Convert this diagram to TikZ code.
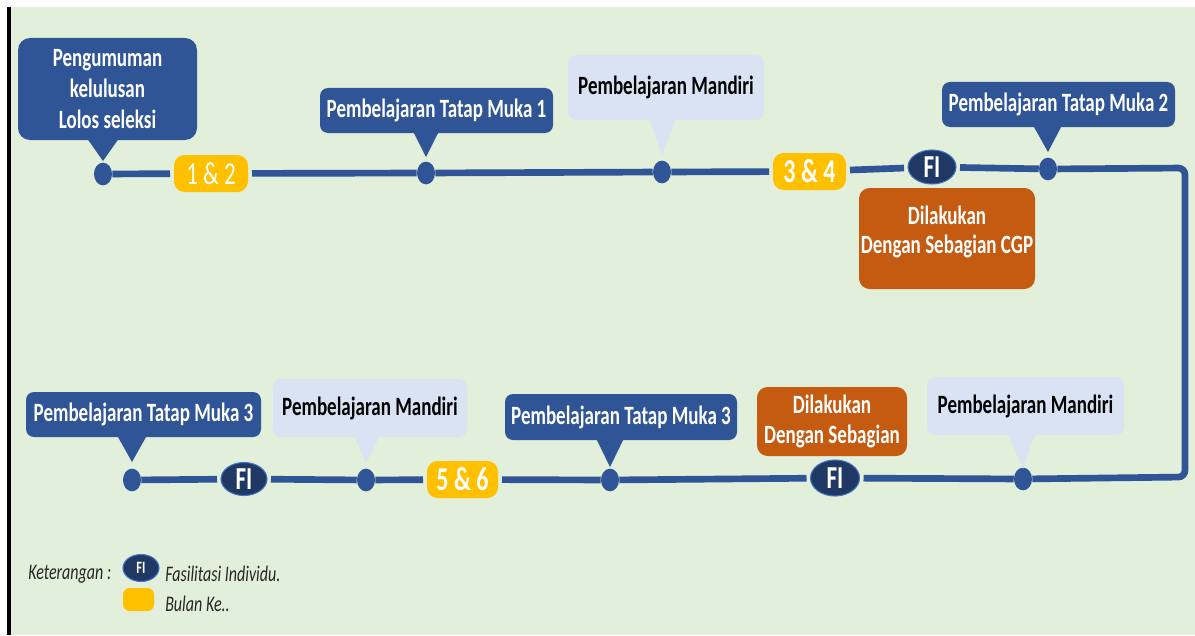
\documentclass[tikz,border=0pt]{standalone}
\usepackage{fontspec}
\setmainfont{Carlito}[FakeStretch=0.72]
\usepackage{tikz}
\usetikzlibrary{shapes.geometric,positioning,calc}

\definecolor{bggreen}{HTML}{E2EFDA}
\definecolor{lineblue}{HTML}{2F5597}
\definecolor{boxblue}{HTML}{2F5597}
\definecolor{boxlight}{HTML}{DAE3F3}
\definecolor{monthyellow}{HTML}{FFC000}
\definecolor{finavy}{HTML}{203864}
\definecolor{fiedge}{HTML}{4472C4}
\definecolor{cgporange}{HTML}{C55A11}

\tikzset{
  tline/.style={line width=5pt, draw=lineblue},
  stopdot/.style={ellipse, fill=lineblue, inner sep=0pt, minimum width=13.5pt, minimum height=17pt},
  tmbox/.style={rounded corners=6pt, fill=boxblue, text=white, inner sep=0pt, align=center,
    font=\bfseries\fontsize{19.8}{23}\selectfont},
  mdbox/.style={rounded corners=6pt, fill=boxlight, text=black, inner sep=0pt, align=center,
    font=\bfseries\fontsize{19.8}{23}\selectfont},
  cgpbox/.style={rounded corners=8pt, fill=cgporange, text=white, inner sep=0pt, align=center,
    font=\bfseries\fontsize{19.8}{22}\selectfont},
  monthbox/.style={rounded corners=8pt, fill=monthyellow, text=white, inner sep=0pt, outer sep=3pt,
    minimum height=27.75pt},
  fibubble/.style={ellipse, fill=finavy, draw=fiedge, line width=0.8pt, text=white, inner sep=0pt,
    outer sep=3pt, font=\bfseries\fontsize{24}{26}\selectfont},
  legtext/.style={anchor=base west, inner sep=0pt, text=black!85, font=\itshape\fontsize{16.7}{18}\selectfont}
}

\begin{document}
\begin{tikzpicture}[x=0.75pt,y=-0.75pt]
  \useasboundingbox (0,0) rectangle (1195,635);
  \fill[white] (0,0) rectangle (1195,635);
  \fill[bggreen] (7,7) rectangle (1195,635);
  \draw[black, line width=2.5pt] (9,7) -- (9,635);

  % top row
  \node[stopdot] (d1) at (103,174) {};
  \node[monthbox, minimum width=55.5pt, font=\fontsize{24}{26}\selectfont] (y12) at (211,173.5) {1 \& 2};
  \node[stopdot] (d2) at (426,173) {};
  \node[stopdot] (d3) at (662,172) {};
  \node[monthbox, minimum width=54.75pt, font=\bfseries\fontsize{25}{26}\selectfont] (y34) at (809.5,171.5) {3 \& 4};
  \node[fibubble, minimum width=36pt, minimum height=25.5pt] (fi1) at (932,167) {FI};
  \node[stopdot] (d4) at (1048,169) {};
  \coordinate (c1) at (1185,168);
  \coordinate (c2) at (1185,477);

  % bottom row
  \node[stopdot] (e4) at (1023,479) {};
  \node[fibubble, minimum width=36.75pt, minimum height=27pt] (fi3) at (835,478) {FI};
  \node[stopdot] (e3) at (610,480) {};
  \node[monthbox, minimum width=53.25pt, font=\bfseries\fontsize{25}{26}\selectfont] (y56) at (462.5,479.5) {5 \& 6};
  \node[stopdot] (e2) at (366,480) {};
  \node[fibubble, minimum width=34.5pt, minimum height=24.75pt] (fi2) at (244,479) {FI};
  \node[stopdot] (e1) at (132,480) {};

  \draw[tline, rounded corners=5pt] (d1) -- (y12) -- (d2) -- (d3) -- (y34) -- (fi1) -- (d4)
    -- (c1) -- (c2) -- (e4) -- (fi3) -- (e3) -- (y56) -- (e2) -- (fi2) -- (e1);

  % callouts
  \node[tmbox, rounded corners=9pt, minimum width=134.25pt, minimum height=76.5pt] (ann) at (107.5,89)
    {Pengumuman\\kelulusan\\Lolos seleksi};
  \node[tmbox, minimum width=174.75pt, minimum height=33.75pt] (tm1) at (436.5,110.5) {Pembelajaran Tatap Muka 1};
  \node[mdbox, minimum width=147pt, minimum height=48.75pt] (pm1) at (666,87.5) {Pembelajaran Mandiri};
  \node[tmbox, minimum width=174.75pt, minimum height=33.75pt] (tm2) at (1058.5,104.5) {Pembelajaran Tatap Muka 2};
  \node[cgpbox, minimum width=132pt, minimum height=75.75pt, text depth=13pt] (cgp) at (947,238.5)
    {Dilakukan\\Dengan Sebagian CGP};

  \node[tmbox, minimum width=176.25pt, minimum height=33.75pt] (tm3a) at (143.5,414.5) {Pembelajaran Tatap Muka 3};
  \node[mdbox, minimum width=145.5pt, minimum height=43.5pt] (pm2) at (370,408) {Pembelajaran Mandiri};
  \node[tmbox, minimum width=174pt, minimum height=34.5pt] (tm3b) at (621,417) {Pembelajaran Tatap Muka 3};
  \node[cgpbox, minimum width=112.5pt, minimum height=51.75pt] (sb) at (832,421.5)
    {Dilakukan\\Dengan Sebagian};
  \node[mdbox, minimum width=147.75pt, minimum height=43.5pt] (pm3) at (1025.5,406) {Pembelajaran Mandiri};

  % pointers
  \fill[boxblue] ($(ann.south -| d1)+(-16,-2)$) -- ($(d1)+(0,-13)$) -- ($(ann.south -| d1)+(16,-2)$) -- cycle;
  \fill[boxblue] ($(tm1.south -| d2)+(-13,-2)$) -- ($(d2)+(0,-16)$) -- ($(tm1.south -| d2)+(13,-2)$) -- cycle;
  \fill[boxlight] ($(pm1.south -| d3)+(-13,-2)$) -- ($(d3)+(0,-17)$) -- ($(pm1.south -| d3)+(14,-2)$) -- cycle;
  \fill[boxblue] ($(tm2.south -| d4)+(-15,-2)$) -- ($(d4)+(0,-17)$) -- ($(tm2.south -| d4)+(14,-2)$) -- cycle;
  \fill[boxblue] ($(tm3a.south -| e1)+(-15,-2)$) -- ($(e1)+(0,-18)$) -- ($(tm3a.south -| e1)+(15,-2)$) -- cycle;
  \fill[boxlight] ($(pm2.south -| e2)+(-12,-2)$) -- ($(e2)+(0,-17)$) -- ($(pm2.south -| e2)+(14,-2)$) -- cycle;
  \fill[boxblue] ($(tm3b.south -| e3)+(-14,-2)$) -- ($(e3)+(0,-13)$) -- ($(tm3b.south -| e3)+(14,-2)$) -- cycle;
  \fill[boxlight] ($(pm3.south -| e4)+(-15,-2)$) -- ($(e4)+(0,-10)$) -- ($(pm3.south -| e4)+(12,-2)$) -- cycle;

  % legend
  \node[legtext] (ket) at (28,579) {Keterangan :};
  \node[fibubble, outer sep=0pt, minimum width=27pt, minimum height=20.25pt,
    font=\bfseries\fontsize{13}{14}\selectfont] (kfi) at (141,568) {\raisebox{-5pt}{FI}};
  \node[legtext] (kfitxt) at (165,581) {Fasilitasi Individu.};
  \node[monthbox, outer sep=0pt, rounded corners=5pt, minimum width=23.25pt, minimum height=17.25pt] (kmon) at (138.5,599.5) {};
  \node[legtext] (kmontxt) at (165,611) {Bulan Ke..};
\end{tikzpicture}
\end{document}
